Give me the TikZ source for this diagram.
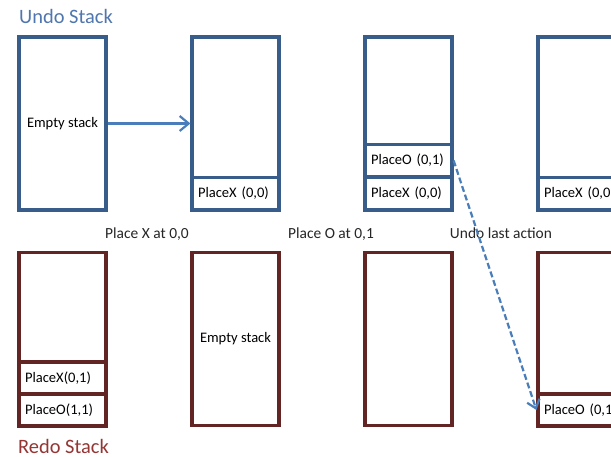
\documentclass[tikz,border=0pt]{standalone}
\usepackage{fontspec}
\setmainfont{Carlito}
\usetikzlibrary{arrows.meta}
\definecolor{ubox}{HTML}{385D8A}
\definecolor{rbox}{HTML}{632523}
\definecolor{arrowblue}{HTML}{4A7EBB}
\definecolor{undotxt}{HTML}{4F76AE}
\definecolor{redotxt}{HTML}{943634}
\begin{document}
\begin{tikzpicture}[x=1bp,y=-1bp,
  stackbox/.style={draw, line width=3.2bp, fill=white, minimum width=87bp, minimum height=173bp, inner sep=0pt,
    font=\fontsize{14.6}{17}\selectfont},
  ubx/.style={stackbox, draw=ubox},
  rbx/.style={stackbox, draw=rbox},
  cell/.style={draw, line width=3.2bp, minimum width=87bp, minimum height=32bp, inner xsep=6bp, inner ysep=0pt,
    text width=75bp, align=left, font=\fontsize{14.6}{17}\selectfont},
  steplabel/.style={anchor=base, inner sep=0pt, font=\fontsize{15.5}{18}\selectfont, text=black!85},
  titlelabel/.style={anchor=base west, inner sep=0pt, font=\fontsize{20.5}{24}\selectfont},
  undoarrow/.style={draw=arrowblue, line width=2.2bp, -{Straight Barb[length=9bp,width=15bp]}},
  redoarrow/.style={draw=arrowblue, line width=2.2bp, dash pattern=on 6bp off 3bp, -{Straight Barb[length=8bp,width=13bp]}}
]
\clip (0,0) rectangle (611,457);
\fill[white] (0,0) rectangle (611,457);

% titles
\node[titlelabel, text=undotxt] (undotitle) at (19,23.5) {Undo Stack};
\node[titlelabel, text=redotxt] (redotitle) at (18,453.5) {Redo Stack};

% top row (undo)
\node[ubx] (u1) at (62.5,123.5) {Empty stack};
\node[ubx] (u2) at (235.5,123.5) {};
\node[ubx] (u3) at (408.5,123.5) {};
\node[ubx] (u4) at (581.5,123.5) {};
\node[cell, draw=ubox] (u2x) at (235.5,193.5) {PlaceX (0,0)};
\node[cell, draw=ubox] (u3o) at (408.5,160.5) {PlaceO (0,1)};
\node[cell, draw=ubox] (u3x) at (408.5,193.5) {PlaceX (0,0)};
\node[cell, draw=ubox] (u4x) at (581.5,193.5) {PlaceX (0,0)};

% bottom row (redo)
\node[rbx] (r1) at (62.5,339) {};
\node[rbx] (r2) at (235.5,339) {Empty stack};
\node[rbx] (r3) at (408.5,339) {};
\node[rbx] (r4) at (581.5,339) {};
\node[cell, draw=rbox] (r1x) at (62.5,378) {PlaceX(0,1)};
\node[cell, draw=rbox] (r1o) at (62.5,410) {PlaceO(1,1)};
\node[cell, draw=rbox] (r4o) at (581.5,410) {PlaceO (0,1)};

% step labels
\node[steplabel] (s1) at (147,239) {Place X at 0,0};
\node[steplabel] (s2) at (331,239) {Place O at 0,1};
\node[steplabel] (s3) at (501,239) {Undo last action};

% connectors
\draw[undoarrow] (u1) -- (u2);
\draw[redoarrow] (u3o.east) -- (r4o.west);
\end{tikzpicture}
\end{document}
